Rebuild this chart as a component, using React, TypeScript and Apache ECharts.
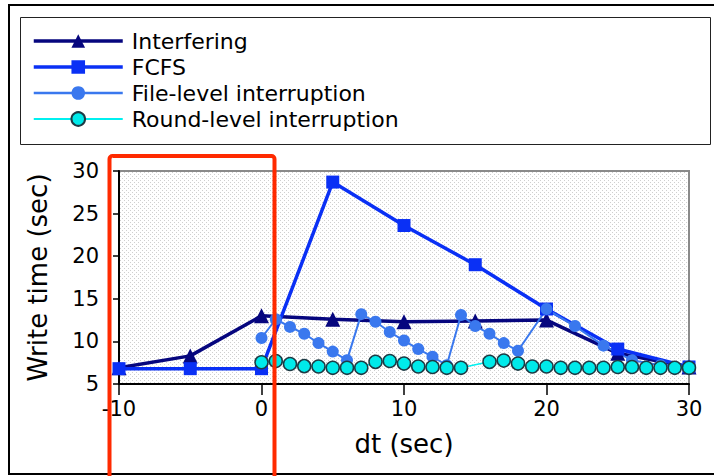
import React, { useEffect, useRef } from "react";
import * as echarts from "echarts";

// dt (sec) sample positions
const coarseX = [-10, -5, 0, 5, 10, 15, 20, 25, 30];
const interferingY = [6.9, 8.3, 13.0, 12.6, 12.3, 12.4, 12.5, 8.6, 7.0];
const fcfsY = [6.8, 6.8, 6.8, 28.7, 23.6, 19.0, 13.8, 9.1, 7.0];

const fileX = [0, 1, 2, 3, 4, 5, 6, 7, 8, 9, 10, 11, 12, 13, 14, 15, 16, 17, 18, 20, 22, 24, 26, 28, 30];
const fileY = [10.4, 12.6, 11.7, 10.9, 9.8, 8.8, 7.8, 13.2, 12.3, 11.1, 10.1, 9.1, 8.2, 7.2, 13.1, 11.8, 10.9, 9.8, 8.9, 13.8, 11.8, 9.5, 7.8, 7.2, 7.0];

const roundX = [0, 1, 2, 3, 4, 5, 6, 7, 8, 9, 10, 11, 12, 13, 14, 16, 17, 18, 19, 20, 21, 22, 23, 24, 25, 26, 27, 28, 29, 30];
const roundY = [7.55, 7.7, 7.35, 7.1, 7.05, 6.9, 6.9, 6.9, 7.6, 7.7, 7.4, 7.05, 7.0, 6.9, 6.9, 7.6, 7.75, 7.4, 7.05, 7.05, 6.9, 6.9, 6.9, 6.9, 7.0, 7.0, 6.9, 6.9, 6.9, 6.9];

const seriesNames = ["Interfering", "FCFS", "File-level interruption", "Round-level interruption"];
const seriesColors = ["#06067e", "#0a30f5", "#3a78ee", "#00f0f0"];
const legendLineWidths = [3.5, 3.5, 2.5, 2];

const xMin = -10, xMax = 30, xStep = 10;
const yMin = 5, yMax = 30, yStep = 5;

const zip = (xs: number[], ys: number[]) => xs.map((x, i) => [x, ys[i]]);

const FONT = "DejaVu Sans";

export default function App() {
  const ref = useRef<HTMLDivElement>(null);
  useEffect(() => {
    const chart = echarts.init(ref.current!, null, { renderer: "svg" });
    const cv = document.createElement("canvas");
    cv.width = 4;
    cv.height = 4;
    const ctx = cv.getContext("2d")!;
    ctx.fillStyle = "#ffffff";
    ctx.fillRect(0, 0, 4, 4);
    ctx.fillStyle = "#cfcfcf";
    ctx.fillRect(0, 0, 1, 1);
    ctx.fillRect(2, 2, 1, 1);

    chart.setOption({
      animation: false,
      backgroundColor: "#ffffff",
      textStyle: { fontFamily: FONT },
      grid: {
        left: 119,
        top: 171,
        width: 570,
        height: 213,
        show: true,
        borderColor: "#8a8a8a",
        borderWidth: 2,
        backgroundColor: { image: cv, repeat: "repeat" } as any,
      },
      legend: {
        orient: "vertical",
        left: 27,
        top: 25,
        itemWidth: 89,
        itemHeight: 17,
        itemGap: 4,
        data: seriesNames.map((n, i) => ({ name: n, lineStyle: { width: legendLineWidths[i], color: seriesColors[i] } })),
        textStyle: { fontFamily: FONT, fontSize: 22, color: "#000", padding: [0, 0, 0, 4] },
      },
      xAxis: {
        type: "value",
        min: xMin,
        max: xMax,
        interval: xStep,
        name: "dt (sec)",
        nameLocation: "middle",
        nameGap: 47,
        nameTextStyle: { fontFamily: FONT, fontSize: 26, color: "#000" },
        axisLine: { show: true, onZero: false, lineStyle: { color: "#000", width: 2 } },
        axisTick: { show: true, inside: false, length: 11, lineStyle: { color: "#000", width: 1.5 } },
        axisLabel: { fontFamily: FONT, fontSize: 21, color: "#000", margin: 14 },
        splitLine: { show: false },
      },
      yAxis: {
        type: "value",
        min: yMin,
        max: yMax,
        interval: yStep,
        name: "Write time (sec)",
        nameLocation: "middle",
        nameGap: 68,
        nameTextStyle: { fontFamily: FONT, fontSize: 26, color: "#000" },
        axisLine: { show: true, onZero: false, lineStyle: { color: "#000", width: 2 } },
        axisTick: { show: true, inside: false, length: 6, lineStyle: { color: "#000", width: 1.5 } },
        axisLabel: { fontFamily: FONT, fontSize: 21, color: "#000", margin: 20 },
        splitLine: { show: false },
      },
      graphic: [
        {
          type: "rect",
          z: -10,
          silent: true,
          shape: { x: 9, y: 5, width: 720, height: 469 },
          style: { fill: "none", stroke: "#000", lineWidth: 2 },
        },
        {
          type: "rect",
          z: -5,
          silent: true,
          shape: { x: 20.5, y: 17.5, width: 690, height: 127 },
          style: { fill: "#fff", stroke: "#222", lineWidth: 1 },
        },
        {
          type: "rect",
          z: 100,
          silent: true,
          shape: { x: 109.5, y: 156, width: 165, height: 340, r: 3 },
          style: { fill: "none", stroke: "#ff2a00", lineWidth: 4 },
        },
      ],
      series: [
        {
          name: seriesNames[0],
          type: "line",
          data: zip(coarseX, interferingY),
          symbol: "triangle",
          symbolSize: 15,
          lineStyle: { color: seriesColors[0], width: 3.5 },
          itemStyle: { color: seriesColors[0] },
          z: 3,
        },
        {
          name: seriesNames[1],
          type: "line",
          data: zip(coarseX, fcfsY),
          symbol: "rect",
          symbolSize: 13,
          lineStyle: { color: seriesColors[1], width: 3.5 },
          itemStyle: { color: seriesColors[1] },
          z: 3,
        },
        {
          name: seriesNames[2],
          type: "line",
          data: zip(fileX, fileY),
          symbol: "circle",
          symbolSize: 12,
          lineStyle: { color: seriesColors[2], width: 2 },
          itemStyle: { color: seriesColors[2] },
          z: 3,
        },
        {
          name: seriesNames[3],
          type: "line",
          data: zip(roundX, roundY),
          symbol: "circle",
          symbolSize: 13,
          lineStyle: { color: seriesColors[3], width: 1.5 },
          itemStyle: { color: "#00eaea", borderColor: "#1d3a44", borderWidth: 1.5 },
          z: 3,
        },
      ],
    });
    return () => chart.dispose();
  }, []);
  return (
    <div style={{ position: "fixed", left: 0, top: 0, width: 714, height: 476, background: "#fff" }}>
      <div ref={ref} style={{ width: 714, height: 476 }} />
    </div>
  );
}
